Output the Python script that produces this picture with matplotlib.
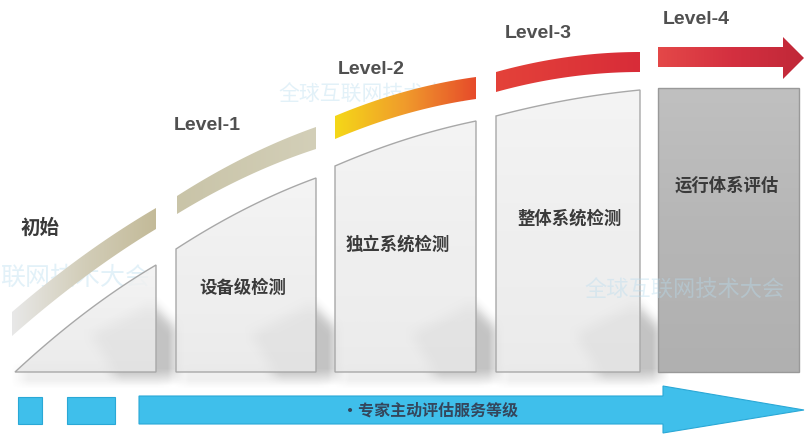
import numpy as np
import matplotlib
matplotlib.use('Agg')
import matplotlib.pyplot as plt
from matplotlib.patches import Polygon, Rectangle
from matplotlib.path import Path
from matplotlib.colors import LinearSegmentedColormap

plt.rcParams['font.family'] = ['Noto Sans CJK SC', 'DejaVu Sans']

# 各阶段文字
stage_labels = ["初始", "设备级检测", "独立系统检测", "整体系统检测", "运行体系评估"]
level_labels = ["Level-1", "Level-2", "Level-3", "Level-4"]
service_label = "·专家主动评估服务等级"
watermark_text = ["全球互联网技术大会", "联网技术大会", "全球互联网技术大会"]

W, H = 805, 435

fig = plt.figure(figsize=(8.05, 4.35), dpi=100)
ax = fig.add_axes([0, 0, 1, 1])


def curve(x0, x1, y0, y1, bulge, n=40):
    t = np.linspace(0, 1, n)
    x = x0 + (x1 - x0) * t
    y = y0 + (y1 - y0) * t - bulge * 4 * t * (1 - t)
    return np.column_stack([x, y])


def grad_patch(verts, colors, vertical=False, alpha=1.0, edge=None, lw=1.0, z=2):
    verts = np.asarray(verts, dtype=float)
    poly = Polygon(verts, closed=True, facecolor='none',
                   edgecolor=edge if edge else 'none', lw=lw, zorder=z + 0.1)
    ax.add_patch(poly)
    cmap = LinearSegmentedColormap.from_list('g', colors)
    g = np.linspace(0, 1, 256)
    g = g.reshape(-1, 1) if vertical else g.reshape(1, -1)
    x0, x1 = verts[:, 0].min(), verts[:, 0].max()
    y0, y1 = verts[:, 1].min(), verts[:, 1].max()
    im = ax.imshow(g, cmap=cmap, extent=(x0, x1, y1, y0), origin='upper',
                   aspect='auto', alpha=alpha, zorder=z, interpolation='bilinear')
    im.set_clip_path(poly)


# ---- 面板几何
bottom = 373
panel_x = [(15, 156), (176, 316), (335, 476), (496, 640), (658, 799)]
panel_top = [(373, 266), (250, 179), (167, 122), (117, 91), (89, 89)]
panel_bulge = [6, 5, 4, 3, 0]

band_x = [(12, 156), (177, 316), (335, 476), (496, 640)]
band_top = [(313, 209), (197, 128), (117, 78), (73, 53)]
band_bot = [(337, 230), (215, 150), (140, 100), (93, 73)]
band_colors = [
    ['#e8e8e8', '#d2cdb8', '#c3ba98'],
    ['#c9c4a8', '#d3cfb8'],
    ['#f5d818', '#f09a2c', '#e64a2a'],
    ['#e4423a', '#d82c38'],
]

# ---- 阴影 (模糊)
yy, xx = np.mgrid[0:H, 0:W] + 0.5
pts = np.column_stack([xx.ravel(), yy.ravel()])
mask = np.zeros(H * W)
for (x0, x1) in panel_x[:4]:
    shp = Path([(x1 - 65, 335), (x1 - 5, 305), (x1 + 20, 330), (x1 + 20, 378), (x1 - 40, 378)])
    mask = np.maximum(mask, shp.contains_points(pts).astype(float))
    flo = Path([(x0 + 5, 372), (x1 + 10, 372), (x1 + 10, 381), (x0 + 5, 381)])
    mask = np.maximum(mask, 0.5 * flo.contains_points(pts))
mask = mask.reshape(H, W)
k = np.ones(17) / 17
for axis in (0, 1):
    mask = np.apply_along_axis(lambda m: np.convolve(m, k, mode='same'), axis, mask)
shadow = np.zeros((H, W, 4))
shadow[..., :3] = 0.45
shadow[..., 3] = mask * 0.42
ax.imshow(shadow, extent=(0, W, H, 0), origin='upper', zorder=1, interpolation='bilinear')

# ---- 水印
ax.text(372, 95, watermark_text[0], fontsize=15, color='#b8dcef', alpha=0.4,
        ha='center', va='center', zorder=1.5)
ax.text(75, 278, watermark_text[1], fontsize=18, color='#b8dcef', alpha=0.4,
        ha='center', va='center', zorder=1.5)
ax.text(685, 290, watermark_text[2], fontsize=16, color='#b8dcef', alpha=0.4,
        ha='center', va='center', zorder=6)

# ---- 面板
for i, ((x0, x1), (t0, t1), b) in enumerate(zip(panel_x, panel_top, panel_bulge)):
    top = curve(x0, x1, t0, t1, b)
    verts = np.vstack([top, [[x1, bottom], [x0, bottom]]])
    if i < 4:
        grad_patch(verts, ['#f2f2f2', '#e8e8e8'], vertical=True, alpha=0.85,
                   edge='#a8a8a8', lw=1.0, z=2)
    else:
        grad_patch(verts, ['#c0c0c0', '#b6b6b6', '#b0b0b0'], vertical=True,
                   alpha=1.0, edge='#999999', lw=1.0, z=2)

# ---- 弧形色带
for (x0, x1), (t0, t1), (b0, b1), cols in zip(band_x, band_top, band_bot, band_colors):
    top = curve(x0, x1, t0, t1, 5)
    bot = curve(x0, x1, b0, b1, 5)[::-1]
    grad_patch(np.vstack([top, bot]), cols, z=3)

# Level-4 箭头
arrow4 = [(658, 48), (783, 48), (783, 38), (804, 59), (783, 80), (783, 68), (658, 68)]
grad_patch(arrow4, ['#e44848', '#d43040', '#c02838'], z=3)

# ---- 底部蓝色箭头
blue = '#3fbfeb'
ax.add_patch(Rectangle((18, 398), 24, 27, facecolor=blue, edgecolor='#2aa8d6', lw=0.8, zorder=3))
ax.add_patch(Rectangle((67, 398), 48, 27, facecolor=blue, edgecolor='#2aa8d6', lw=0.8, zorder=3))
arrow_b = [(139, 397), (663, 397), (663, 387), (804, 411), (663, 434), (663, 425), (139, 425)]
ax.add_patch(Polygon(arrow_b, closed=True, facecolor=blue, edgecolor='#2aa8d6', lw=0.8, zorder=3))
ax.text(430, 411, service_label, fontsize=11.5, fontweight='bold', color='#34465c',
        ha='center', va='center', zorder=4)

# ---- 文字
ax.text(40, 228, stage_labels[0], fontsize=14, fontweight='bold', color='#3a3a3a',
        ha='center', va='center', zorder=5)
stage_pos = [(243, 288), (398, 245), (570, 219), (727, 186)]
for lab, (x, y) in zip(stage_labels[1:], stage_pos):
    ax.text(x, y, lab, fontsize=12.5, fontweight='bold', color='#3a3a3a',
            ha='center', va='center', zorder=5)

level_pos = [(207, 126), (371, 70), (538, 33), (696, 20)]
for lab, (x, y) in zip(level_labels, level_pos):
    ax.text(x, y, lab, fontsize=14, fontweight='bold', color='#505050',
            family=['Liberation Sans', 'DejaVu Sans'], ha='center', va='center', zorder=5)

ax.set_xlim(0, W)
ax.set_ylim(H, 0)
ax.axis('off')

fig.savefig('out.png', dpi=100, facecolor='white')
